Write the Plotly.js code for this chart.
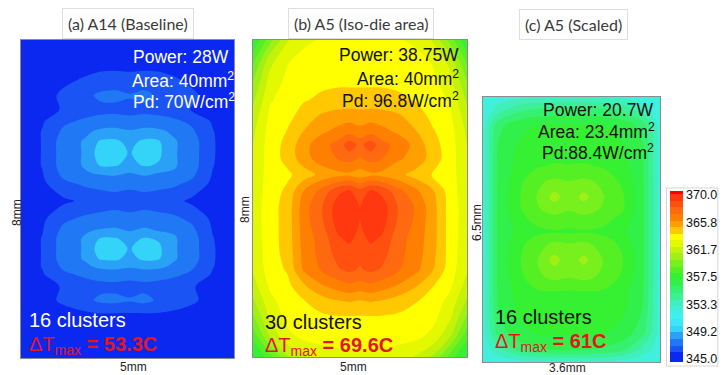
<!DOCTYPE html>
<html><head><meta charset="utf-8">
<script src="https://cdn.plot.ly/plotly-3.0.1.min.js"></script>
<style>html,body{margin:0;padding:0;background:#fff}#chart{width:724px;height:375px}</style>
</head><body><div id="chart"></div>
<script>
// ---- Panel (a) A14 Baseline : 5mm x 8mm ----
const xA = [0,0.5,1.0,1.5,1.85,2.2,2.55,2.9,3.25,3.6,4.0,4.5,5.0];
const yA = [0,0.6,1.1,1.45,1.8,2.1,2.3,2.5,2.75,3.0,3.2,3.5,3.95,4.4,4.65,4.85,5.15,5.45,5.7,5.95,6.25,6.6,7.0,7.4,8.0];
const zA = [
 [345.2,345.2,345.2,345.2,345.2,345.2,345.2,345.2,345.2,345.2,345.2,345.2,345.2],
 [345.2,345.3,345.4,345.5,345.5,345.5,345.5,345.5,345.5,345.5,345.4,345.3,345.2],
 [345.2,345.3,345.6,345.8,345.9,345.9,345.9,345.9,345.9,345.8,345.6,345.3,345.2],
 [345.3,345.6,346.2,346.7,347.2,347.3,347.1,347.3,346.8,346.5,346.2,345.6,345.3],
 [345.3,345.6,346.1,346.5,346.7,346.7,346.6,346.7,346.6,346.4,346.1,345.6,345.3],
 [345.4,345.9,346.8,347.2,347.4,347.5,347.4,347.5,347.4,347.2,346.8,345.9,345.4],
 [345.3,346.05,347.2,347.8,348.2,348.3,348.1,348.3,348.2,347.8,347.2,346.05,345.3],
 [345.3,346.05,347.5,348.1,349.1,349.2,348.7,349.2,349.05,348.1,347.5,346.1,345.3],
 [345.3,346.05,347.5,348.1,349.5,349.6,348.9,349.6,349.15,348.1,347.5,346.1,345.3],
 [345.3,346.05,347.5,348.1,349.05,349.1,348.7,349.1,348.9,348.1,347.5,346.05,345.3],
 [345.3,345.95,347.3,347.9,348.1,348.2,347.95,348.2,347.95,347.9,347.3,345.95,345.3],
 [345.3,345.8,346.8,347.2,347.3,347.4,347.3,347.4,347.3,347.2,346.8,345.8,345.3],
 [345.2,345.4,345.8,346.2,346.5,346.6,346.5,346.6,346.5,346.3,345.8,345.4,345.2],
 [345.3,345.8,346.8,347.2,347.3,347.4,347.3,347.4,347.3,347.2,346.8,345.8,345.3],
 [345.3,345.95,347.3,347.9,348.1,348.2,347.95,348.2,347.95,347.9,347.3,345.95,345.3],
 [345.3,346.05,347.5,348.1,349.05,349.1,348.7,349.1,348.9,348.1,347.5,346.05,345.3],
 [345.3,346.05,347.5,348.1,349.5,349.6,348.9,349.6,349.15,348.1,347.5,346.1,345.3],
 [345.3,346.05,347.5,348.1,349.1,349.2,348.7,349.2,349.05,348.1,347.5,346.1,345.3],
 [345.3,346.05,347.2,347.8,348.2,348.3,348.1,348.3,348.2,347.8,347.2,346.05,345.3],
 [345.4,345.9,346.8,347.2,347.4,347.5,347.4,347.5,347.4,347.2,346.8,345.9,345.4],
 [345.3,345.6,346.1,346.5,346.7,346.7,346.6,346.7,346.6,346.4,345.95,345.6,345.3],
 [345.3,345.6,346.2,346.7,347.2,347.3,347.1,347.3,346.8,346.5,346.2,345.6,345.3],
 [345.2,345.4,345.8,346.1,346.3,346.4,346.3,346.4,346.3,346.1,345.8,345.4,345.2],
 [345.2,345.3,345.5,345.6,345.7,345.7,345.7,345.7,345.7,345.6,345.5,345.3,345.2],
 [345.2,345.2,345.2,345.2,345.2,345.2,345.2,345.2,345.2,345.2,345.2,345.2,345.2]
];
// ---- Panel (b) A5 Iso-die area : 5mm x 8mm ----
const xB = [0,0.4,0.8,1.2,1.6,2.0,2.25,2.5,2.75,3.0,3.4,3.8,4.2,4.6,5.0];
const yB = [0,0.5,1.0,1.4,1.8,2.2,2.6,3.0,3.4,3.8,4.2,4.6,5.0,5.35,5.7,6.1,6.5,7.0,7.5,8.0];
const zB = [
 [356.6,358.6,360.8,361.9,362.4,362.6,362.7,362.7,362.7,362.6,362.4,361.9,360.8,358.6,356.6],
 [358.2,361.0,362.7,363.2,363.4,363.5,363.6,363.6,363.6,363.5,363.4,363.2,362.7,361.0,358.2],
 [359.8,362.2,363.3,363.6,363.8,363.9,363.9,363.9,363.9,363.9,363.8,363.6,363.3,362.2,359.8],
 [360.8,362.7,363.5,363.95,364.5,364.9,365.05,364.9,365.05,364.9,364.5,364.05,363.5,362.7,360.8],
 [361.6,363.2,363.7,364.9,365.9,366.5,366.8,366.6,366.8,366.5,365.9,365.1,364.05,363.2,361.6],
 [362.1,363.5,364.1,366.2,367.1,367.9,368.2,367.9,368.2,367.9,367.1,366.3,365.05,363.5,362.1],
 [362.2,363.6,364.3,366.4,367.3,368.4,368.6,368.3,368.6,368.4,367.3,366.5,365.3,363.6,362.2],
 [362.3,363.6,364.4,366.5,367.4,368.9,369.2,368.7,369.2,368.9,367.4,366.6,365.4,363.6,362.3],
 [362.4,363.6,364.4,366.6,367.8,369.5,369.8,368.95,369.8,369.5,367.8,366.8,365.4,363.6,362.4],
 [362.4,363.6,364.4,366.6,367.9,369.6,369.9,368.95,369.9,369.6,367.9,366.9,365.4,363.6,362.4],
 [362.3,363.5,364.2,366.05,367.3,368.7,369.1,368.3,369.1,368.7,367.3,366.2,365.1,363.5,362.3],
 [362.2,363.5,363.8,364.5,365.3,365.7,365.8,365.5,365.8,365.7,365.3,364.6,363.9,363.5,362.2],
 [362.1,363.5,364.3,365.6,366.5,367.05,367.3,366.9,367.3,367.05,366.1,365.7,364.5,363.5,362.1],
 [362.0,363.5,364.3,365.7,366.6,367.4,368.6,367.7,368.6,367.4,366.6,365.7,364.4,363.5,362.0],
 [361.8,363.4,364.05,365.05,365.8,366.3,366.6,366.3,366.6,366.3,365.8,365.05,364.1,363.4,361.8],
 [361.4,363.2,363.6,364.5,365.1,365.4,365.5,365.4,365.5,365.4,365.1,364.5,363.7,363.2,361.4],
 [360.8,362.9,363.4,363.9,364.2,364.3,364.3,364.3,364.3,364.3,364.2,363.9,363.4,362.9,360.8],
 [359.9,362.4,363.2,363.5,363.7,363.8,363.8,363.8,363.8,363.8,363.7,363.5,363.2,362.4,359.9],
 [358.6,361.6,362.9,363.3,363.5,363.5,363.5,363.5,363.5,363.5,363.5,363.3,362.9,361.6,358.6],
 [357.0,359.6,361.9,362.8,363.1,363.2,363.2,363.2,363.2,363.2,363.1,362.8,361.9,359.6,357.0]
];
// ---- Panel (c) A5 Scaled : 3.6mm x 6.5mm ----
const xC = [0,0.3,0.7,1.1,1.45,1.75,2.05,2.45,2.85,3.25,3.6];
const yC = [0,0.3,0.7,1.2,1.7,2.1,2.5,2.9,3.2,3.5,3.75,4.05,4.4,4.8,5.3,5.8,6.2,6.5];
const zC = [
 [352.1,352.3,352.6,352.8,352.9,352.9,352.9,352.8,352.6,352.3,352.1],
 [352.3,353.6,355.2,355.8,356.05,356.1,356.05,355.8,355.2,353.6,352.3],
 [352.5,355.3,356.6,357.05,357.1,357.1,357.1,357.05,356.6,355.3,352.5],
 [352.6,355.9,357.1,357.3,357.5,357.5,357.5,357.3,357.1,355.9,352.6],
 [352.6,356.1,357.3,357.8,357.9,357.8,357.9,357.8,357.3,356.1,352.6],
 [352.6,356.2,357.6,358.8,359.3,359.1,359.3,358.8,357.8,356.2,352.6],
 [352.6,356.2,357.8,358.95,360.4,359.4,360.3,358.95,358.05,356.2,352.6],
 [352.6,356.2,357.6,358.6,359.2,359.05,359.2,358.6,357.7,356.2,352.6],
 [352.6,356.2,357.2,357.7,357.9,357.8,357.9,357.7,357.2,356.2,352.6],
 [352.6,356.2,357.5,358.4,358.7,358.5,358.7,358.4,357.6,356.2,352.6],
 [352.6,356.2,357.8,358.9,359.4,359.1,359.4,358.9,358.1,356.2,352.6],
 [352.6,356.2,357.8,359.05,360.4,359.4,360.3,359.05,358.1,356.2,352.6],
 [352.6,356.2,357.7,358.8,359.3,359.1,359.3,358.8,357.8,356.2,352.6],
 [352.6,356.1,357.3,357.9,358.1,358.05,358.1,357.9,357.3,356.1,352.6],
 [352.6,356.05,357.05,357.4,357.5,357.5,357.5,357.4,357.05,356.05,352.6],
 [352.5,355.6,356.7,357.05,357.1,357.1,357.1,357.05,356.7,355.6,352.5],
 [352.2,353.4,354.6,355.1,355.3,355.3,355.3,355.1,354.6,353.4,352.2],
 [352.1,352.4,352.8,352.95,353.1,353.1,353.1,352.95,352.8,352.4,352.1]
];
// ---- colour bar ----
const cbTickVals = [345,349.2,353.3,357.5,361.7,365.8,370];
const cbTickText = ['345.0','349.2','353.3','357.5','361.7','365.8','370.0'];
const bandColors = ['#0a28f0','#1a54f4','#2078f4','#2aa0f6','#34d4f8','#3ce8f6','#40f0f0','#40f0dc','#40f0bc','#3cf096','#36f070','#32f04a','#36f032','#54f024','#78f01e','#a0f016','#c4f208','#e4f800','#ffff00','#ffc800','#ffa000','#ff8000','#ff6a10','#ff5010','#ff3810','#ff0000'];
// ---- texts ----
const titles = ['(a) A14 (Baseline)','(b) A5 (Iso-die area)','(c) A5 (Scaled)'];
const infoA = ['Power: 28W','Area: 40mm<sup>2</sup>','Pd: 70W/cm<sup>2</sup>'];
const infoB = ['Power: 38.75W','Area: 40mm<sup>2</sup>','Pd: 96.8W/cm<sup>2</sup>'];
const infoC = ['Power: 20.7W','Area: 23.4mm<sup>2</sup>','Pd:88.4W/cm<sup>2</sup>'];
const clusters = ['16 clusters','30 clusters','16 clusters'];
const dTmax = ['53.3C','69.6C','61C'];
const dimW = ['5mm','5mm','3.6mm'];
const dimH = ['8mm','8mm','6.5mm'];

const W = 724, H = 375;
const nB = bandColors.length;
const colorscale = [[0, bandColors[0]]].concat(bandColors.map((c, i) => [(i + 1) / nB, c]));
const FONT = 'Liberation Sans, Arial, sans-serif';

function die(x, y, z, xa, ya, show) {
  const t = {
    type: 'contour', x: x, y: y, z: z, xaxis: xa, yaxis: ya,
    colorscale: colorscale, autocontour: false,
    contours: {start: 345, end: 370, size: 1, coloring: 'fill', showlines: false},
    line: {width: 0, smoothing: 1},
    showscale: show, hoverinfo: 'skip'
  };
  if (show) {
    t.colorbar = {
      x: 667 / W, xanchor: 'left', xpad: 3, thickness: 13,
      lenmode: 'pixels', len: 176.6, y: 1 - 365.3 / H, yanchor: 'bottom', ypad: 3,
      tickmode: 'array', tickvals: cbTickVals, ticktext: cbTickText, ticks: '',
      tickfont: {family: FONT, size: 12.5, color: '#111'},
      outlinewidth: 0, bordercolor: '#d6d6d6', borderwidth: 1, bgcolor: '#fff'
    };
  }
  return t;
}

const data = [
  die(xA, yA, zA, 'x', 'y', false),
  die(xB, yB, zB, 'x2', 'y2', false),
  die(xC, yC, zC, 'x3', 'y3', true)
];

const ax = {showgrid: false, zeroline: false, showticklabels: false, ticks: '',
  showline: true, mirror: true, linecolor: '#8c8c8c', linewidth: 1, fixedrange: true};

function ann(text, px, py, xanchor, font, extra) {
  return Object.assign({text: text, x: px / W, y: 1 - py / H, xref: 'paper', yref: 'paper',
    showarrow: false, xanchor: xanchor, yanchor: 'middle', font: font}, extra || {});
}
const titleFont = {family: 'Lato, Open Sans, sans-serif', size: 16, color: '#3a3a3a'};
const boxStyle = {bordercolor: '#dedede', borderwidth: 1, borderpad: 5, bgcolor: '#fff'};
const infoW = {family: FONT, size: 17.5, color: '#ffffff'};
const infoK = {family: FONT, size: 17.5, color: '#111111'};
const clW = {family: FONT, size: 20, color: '#ffffff'};
const clK = {family: FONT, size: 20, color: '#111111'};
const redF = {family: FONT, size: 20, color: '#e3161e'};
const dimF = {family: FONT, size: 12, color: '#222'};
const dT = v => '\u0394T<sub>max</sub> <b>= ' + v + '</b>';

const annotations = [
  ann(titles[0], 128, 23, 'center', titleFont, boxStyle),
  ann(titles[1], 361, 23, 'center', titleFont, boxStyle),
  ann(titles[2], 573, 24, 'center', titleFont, boxStyle),
  ann(infoA[0], 231, 57, 'right', infoW),
  ann(infoA[1], 130, 80, 'left', infoW),
  ann(infoA[2], 131, 101, 'left', infoW),
  ann(infoB[0], 461, 55, 'right', infoK),
  ann(infoB[1], 461, 78, 'right', infoK),
  ann(infoB[2], 461, 100, 'right', infoK),
  ann(infoC[0], 655, 110, 'right', infoK),
  ann(infoC[1], 657, 131, 'right', infoK),
  ann(infoC[2], 656, 152, 'right', infoK),
  ann(clusters[0], 27, 320, 'left', clW),
  ann(clusters[1], 263, 322, 'left', clK),
  ann(clusters[2], 493, 317, 'left', clK),
  ann(dT(dTmax[0]), 27, 345, 'left', redF),
  ann(dT(dTmax[1]), 263, 346, 'left', redF),
  ann(dT(dTmax[2]), 493, 342, 'left', redF),
  ann(dimW[0], 133, 367, 'center', dimF),
  ann(dimW[1], 353, 367, 'center', dimF),
  ann(dimW[2], 567, 368, 'center', dimF),
  ann(dimH[0], 17, 213, 'center', dimF, {textangle: -90}),
  ann(dimH[1], 245, 210, 'center', dimF, {textangle: -90}),
  ann(dimH[2], 477, 222, 'center', dimF, {textangle: -90})
];

const layout = {
  width: W, height: H, margin: {l: 0, r: 0, t: 0, b: 0},
  paper_bgcolor: '#fff', plot_bgcolor: '#fff', showlegend: false,
  xaxis: Object.assign({}, ax, {domain: [21 / W, 234 / W], range: [0, 5], anchor: 'y'}),
  yaxis: Object.assign({}, ax, {domain: [1 - 358 / H, 1 - 40 / H], range: [0, 8], anchor: 'x'}),
  xaxis2: Object.assign({}, ax, {domain: [253 / W, 467 / W], range: [0, 5], anchor: 'y2'}),
  yaxis2: Object.assign({}, ax, {domain: [1 - 357 / H, 1 - 40 / H], range: [0, 8], anchor: 'x2'}),
  xaxis3: Object.assign({}, ax, {domain: [483 / W, 660 / W], range: [0, 3.6], anchor: 'y3'}),
  yaxis3: Object.assign({}, ax, {domain: [1 - 362 / H, 1 - 97 / H], range: [0, 6.5], anchor: 'x3'}),
  annotations: annotations
};

Plotly.newPlot('chart', data, layout, {displayModeBar: false, staticPlot: true});
</script>
</body></html>
